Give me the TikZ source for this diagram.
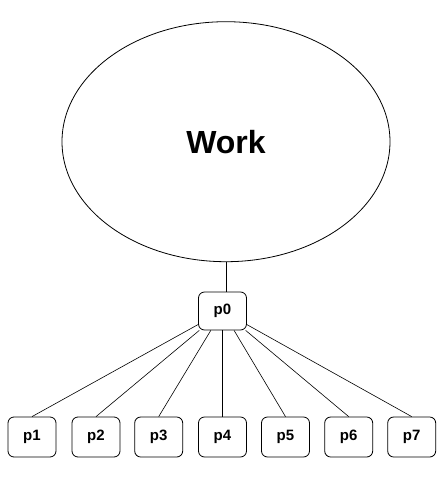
\documentclass[tikz,border=0pt]{standalone}
\usepackage{fontspec}
\setmainfont{Liberation Sans}
\usetikzlibrary{shapes.geometric}

\begin{document}
\begin{tikzpicture}[x=1pt, y=-1pt, line width=0.8pt,
    pbox/.style={draw, rounded corners=6pt, minimum width=48pt, minimum height=40pt, inner sep=0pt, font=\fontsize{15}{15}\selectfont\bfseries},
    link/.style={line width=0.6pt}]
      \useasboundingbox (0,0) rectangle (441,477);
      \node[draw, ellipse, minimum width=328pt, minimum height=240pt, inner sep=0pt, font=\fontsize{32}{32}\selectfont\bfseries] (work) at (226,141.7) {Work};
      \node[pbox, minimum height=38pt] (p0) at (222.5,311) {p0};
      \node[pbox] (p1) at (32,437) {p1};
      \node[pbox] (p2) at (96,437) {p2};
      \node[pbox] (p3) at (158.7,437) {p3};
      \node[pbox] (p4) at (222.5,437) {p4};
      \node[pbox] (p5) at (285.5,437) {p5};
      \node[pbox] (p6) at (348.7,437) {p6};
      \node[pbox] (p7) at (411.7,437) {p7};
      \draw[link] (work.south) -- (work.south |- p0.north);
      \draw[link] (p0) -- (p1.north);
      \draw[link] (p0) -- (p2.north);
      \draw[link] (p0) -- (p3.north);
      \draw[link] (p0) -- (p4.north);
      \draw[link] (p0) -- (p5.north);
      \draw[link] (p0) -- (p6.north);
      \draw[link] (p0) -- (p7.north);
    \end{tikzpicture}
\end{document}
